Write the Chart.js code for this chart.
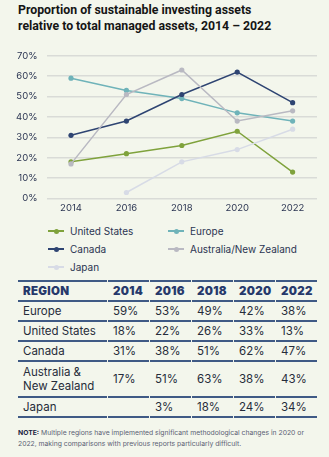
<!DOCTYPE html>
<html>
<head>
<meta charset="utf-8">
<script src="https://cdn.jsdelivr.net/npm/chart.js@4.4.0/dist/chart.umd.min.js"></script>
<style>
  html, body { margin: 0; padding: 0; }
  body {
    width: 329px; height: 457px; position: relative; overflow: hidden;
    background: #f3f6ec; font-family: Inter, "Noto Sans", sans-serif; color: #26304a;
  }
  #title {
    position: absolute; left: 18px; top: 3px; margin: 0;
    font-family: Roboto, Inter, sans-serif;
    font-size: 12.3px; line-height: 15.5px; font-weight: 700; color: #151515;
  }
  #chartBox { position: absolute; left: 0; top: 40px; width: 329px; height: 178px; }
  #legend { position: absolute; left: 48px; top: 225px; width: 270px; }
  .lg-item {
    position: absolute; display: flex; align-items: center;
    font-size: 10px; color: #2b3552; white-space: nowrap;
  }
  .lg-swatch { position: relative; width: 16px; height: 2px; margin-right: 6px; }
  .lg-swatch i { position: absolute; left: 6px; top: -1.5px; width: 5px; height: 5px; border-radius: 50%; }
  table {
    position: absolute; left: 17px; top: 280px; width: 301px;
    border-collapse: separate; border-spacing: 1px 0; table-layout: fixed;
    font-size: 11.5px; color: #262c3a;
  }
  thead tr th { border-top: 2px solid #3f5a85; }
  th, td { border-bottom: 2px solid #3f5a85; padding: 0 0 0 5px; text-align: left; height: 18px; }
  th { font-weight: 900; color: #26396b; font-size: 11.5px; letter-spacing: 0.3px; }
  td.tall { height: 34px; line-height: 14px; }
  #note {
    position: absolute; left: 18px; top: 428px; width: 300px; margin: 0;
    font-size: 6.8px; line-height: 10.5px; color: #5b6274;
  }
  #note b { color: #1d2440; }
</style>
</head>
<body>
<p id="title">Proportion of sustainable investing assets<br>relative to total managed assets, 2014 – 2022</p>
<div id="chartBox"><canvas id="lineChart"></canvas></div>
<div id="legend"></div>
<table id="dataTable"></table>
<p id="note"><b>NOTE:</b> Multiple regions have implemented significant methodological changes in 2020 or 2022, making comparisons with previous reports particularly difficult.</p>

<script>
// ========== DATA ==========
const years = [2014, 2016, 2018, 2020, 2022];
const yTicks = [0, 10, 20, 30, 40, 50, 60, 70];

const unitedStates = [18, 22, 26, 33, 13];
const europe       = [59, 53, 49, 42, 38];
const canada       = [31, 38, 51, 62, 47];
const ausNz        = [17, 51, 63, 38, 43];
const japan        = [null, 3, 18, 24, 34];

// legend order
const series = [
    { label: 'United States',         data: unitedStates, color: '#7fa23c' },
    { label: 'Europe',                data: europe,       color: '#6fb3b9' },
    { label: 'Canada',                data: canada,       color: '#2e4472' },
    { label: 'Australia/New Zealand', data: ausNz,        color: '#b9b9c2' },
    { label: 'Japan',                 data: japan,        color: '#d7dbe6' }
];

// table order
const tableRows = [
    { name: 'Europe',                     data: europe },
    { name: 'United States',              data: unitedStates },
    { name: 'Canada',                     data: canada },
    { name: 'Australia &amp;<br>New Zealand', data: ausNz, tall: true },
    { name: 'Japan',                      data: japan }
];

// ========== CHART ==========
const datasets = series.map((s, i) => ({
    label: s.label,
    data: years.map((y, k) => ({ x: y, y: s.data[k] })),
    borderColor: s.color,
    backgroundColor: s.color,
    pointBackgroundColor: s.color,
    pointBorderWidth: 0,
    pointRadius: 2.6,
    borderWidth: 1.5,
    tension: 0,
    spanGaps: false,
    order: series.length - i
}));

new Chart(document.getElementById('lineChart'), {
    type: 'line',
    data: { datasets: datasets },
    options: {
        responsive: true,
        maintainAspectRatio: false,
        animation: false,
        layout: { padding: { top: 8, right: 12, left: 6, bottom: 0 } },
        plugins: { legend: { display: false }, tooltip: { enabled: false } },
        scales: {
            x: {
                type: 'linear',
                min: 2013.15,
                max: 2022.88,
                afterBuildTicks: axis => { axis.ticks = years.map(v => ({ value: v })); },
                grid: { display: false, drawTicks: false },
                border: { display: false },
                ticks: {
                    callback: v => String(v),
                    color: '#2b3552',
                    padding: 4,
                    font: { family: 'Inter', size: 9.5 }
                }
            },
            y: {
                min: 0,
                max: 70,
                afterBuildTicks: axis => { axis.ticks = yTicks.map(v => ({ value: v })); },
                grid: { color: '#d9dbd7', lineWidth: 1.5, drawTicks: false },
                border: { display: false },
                ticks: {
                    callback: v => v + '%',
                    color: '#2b3552',
                    padding: 10,
                    font: { family: 'Inter', size: 9.5 }
                }
            }
        }
    }
});

// ========== LEGEND ==========
const legendPos = [[0, 0], [120, 0], [0, 18], [120, 18], [0, 36]];
document.getElementById('legend').innerHTML = series.map((s, i) => `
    <div class="lg-item" style="left:${legendPos[i][0]}px;top:${legendPos[i][1]}px">
        <span class="lg-swatch" style="background:${s.color}"><i style="background:${s.color}"></i></span>${s.label}
    </div>`).join('');

// ========== TABLE ==========
const head = '<colgroup><col style="width:89px">' + years.map(() => '<col>').join('') + '</colgroup>' +
    '<thead><tr><th>REGION</th>' + years.map(y => `<th>${y}</th>`).join('') + '</tr></thead>';
const body = '<tbody>' + tableRows.map(r => {
    const cls = r.tall ? ' class="tall"' : '';
    return `<tr><td${cls}>${r.name}</td>` +
        r.data.map(v => `<td${cls}>${v === null ? '' : v + '%'}</td>`).join('') + '</tr>';
}).join('') + '</tbody>';
document.getElementById('dataTable').innerHTML = head + body;
</script>
</body>
</html>
